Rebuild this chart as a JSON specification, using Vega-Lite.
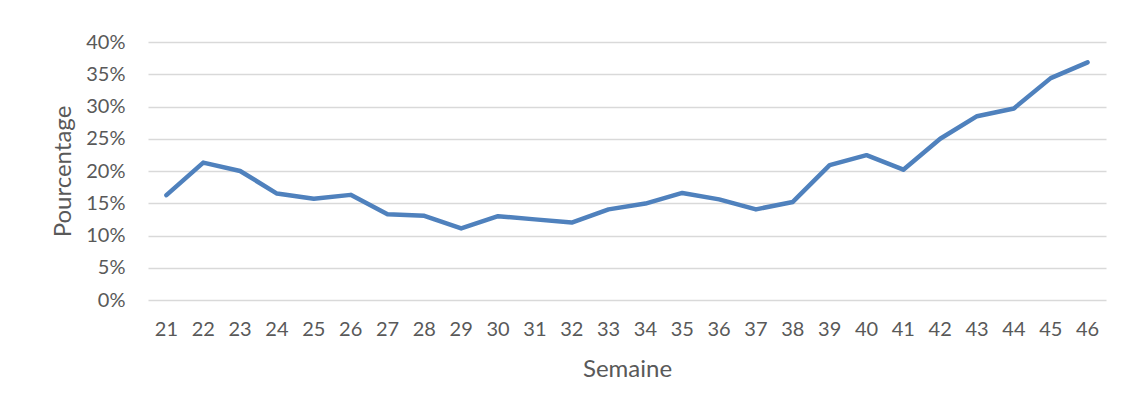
{
  "$schema": "https://vega.github.io/schema/vega-lite/v6.json",
  "autosize": {"type": "none"},
  "width": 958,
  "height": 258,
  "padding": {"left": 148, "top": 42, "right": 19, "bottom": 111},
  "background": "#ffffff",
  "config": {"view": {"stroke": null}},
  "data": {
    "values": [
      {"semaine": "21", "pct": 0.1625},
      {"semaine": "22", "pct": 0.213},
      {"semaine": "23", "pct": 0.200},
      {"semaine": "24", "pct": 0.165},
      {"semaine": "25", "pct": 0.157},
      {"semaine": "26", "pct": 0.163},
      {"semaine": "27", "pct": 0.133},
      {"semaine": "28", "pct": 0.1305},
      {"semaine": "29", "pct": 0.111},
      {"semaine": "30", "pct": 0.130},
      {"semaine": "31", "pct": 0.125},
      {"semaine": "32", "pct": 0.120},
      {"semaine": "33", "pct": 0.1405},
      {"semaine": "34", "pct": 0.1495},
      {"semaine": "35", "pct": 0.166},
      {"semaine": "36", "pct": 0.156},
      {"semaine": "37", "pct": 0.1405},
      {"semaine": "38", "pct": 0.152},
      {"semaine": "39", "pct": 0.209},
      {"semaine": "40", "pct": 0.2245},
      {"semaine": "41", "pct": 0.202},
      {"semaine": "42", "pct": 0.250},
      {"semaine": "43", "pct": 0.285},
      {"semaine": "44", "pct": 0.297},
      {"semaine": "45", "pct": 0.344},
      {"semaine": "46", "pct": 0.3685}
    ]
  },
  "mark": {"type": "line", "color": "#4f81bd", "strokeWidth": 4.5, "strokeCap": "round", "strokeJoin": "round"},
  "encoding": {
    "x": {
      "field": "semaine",
      "type": "ordinal",
      "scale": {"type": "band", "paddingInner": 0, "paddingOuter": 0},
      "axis": {
        "title": "Semaine",
        "labelAngle": 0,
        "ticks": false,
        "domain": false,
        "grid": false,
        "labelPadding": 19,
        "labelFont": "Lato",
        "labelFontSize": 20,
        "labelColor": "#595959",
        "titleFont": "Lato",
        "titleFontSize": 24,
        "titleFontWeight": "normal",
        "titleColor": "#595959",
        "titlePadding": 18
      }
    },
    "y": {
      "field": "pct",
      "type": "quantitative",
      "scale": {"domain": [0, 0.4], "nice": false},
      "axis": {
        "title": "Pourcentage",
        "format": ".0%",
        "values": [0, 0.05, 0.1, 0.15, 0.2, 0.25, 0.3, 0.35, 0.4],
        "ticks": false,
        "domain": false,
        "gridColor": "#d9d9d9",
        "gridWidth": 1.5,
        "labelPadding": 23,
        "labelFont": "Lato",
        "labelFontSize": 20,
        "labelColor": "#595959",
        "titleFont": "Lato",
        "titleFontSize": 24,
        "titleFontWeight": "normal",
        "titleColor": "#595959",
        "titlePadding": 10
      }
    }
  }
}
